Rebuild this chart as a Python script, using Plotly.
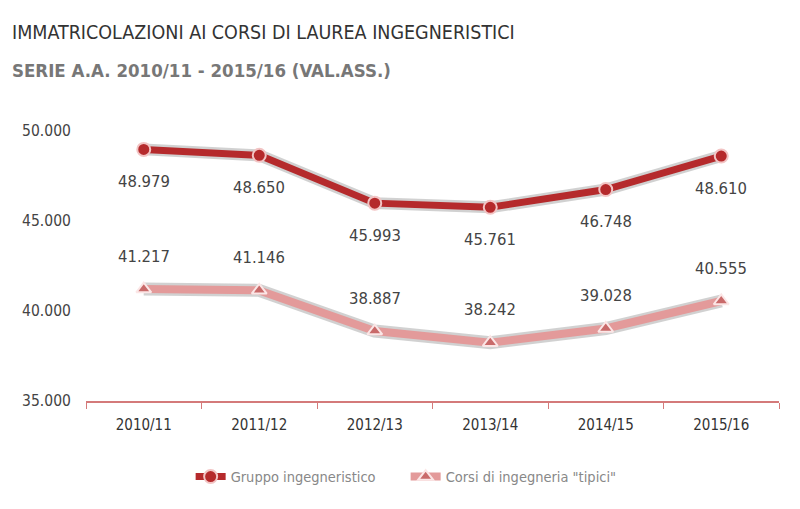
import plotly.graph_objects as go

categories = ["2010/11", "2011/12", "2012/13", "2013/14", "2014/15", "2015/16"]
gruppo = [48979, 48650, 45993, 45761, 46748, 48610]
tipici = [41217, 41146, 38887, 38242, 39028, 40555]
y_ticks = [35000, 40000, 45000, 50000]

def fmt(v):
    return f"{v:,}".replace(",", ".")

DARK = "#b52a2c"
LIGHT = "#e39a9a"
NARROW = "DejaVu Sans Condensed, sans-serif"

fig = go.Figure()
for vals, w in ((gruppo, 12), (tipici, 13)):
    fig.add_trace(go.Scatter(x=categories, y=vals, mode="lines",
                             line=dict(color="rgba(90,90,90,0.28)", width=w),
                             showlegend=False, hoverinfo="skip"))
fig.add_trace(go.Scatter(x=categories, y=gruppo, mode="lines+markers",
                         name="Gruppo ingegneristico",
                         line=dict(color=DARK, width=7),
                         marker=dict(symbol="circle", size=13, color=DARK,
                                     line=dict(color="#f2c4c4", width=2)),
                         cliponaxis=False))
fig.add_trace(go.Scatter(x=categories, y=tipici, mode="lines+markers",
                         name='Corsi di ingegneria "tipici"',
                         line=dict(color=LIGHT, width=8),
                         marker=dict(symbol="triangle-up", size=13, color="#c96a6a",
                                     line=dict(color="#fbe6e6", width=2)),
                         cliponaxis=False))

annotations = []
for c, v in zip(categories, gruppo):
    annotations.append(dict(x=c, y=v, text=fmt(v), showarrow=False, yshift=-32,
                            font=dict(family=NARROW, size=16.5, color="#444")))
for c, v in zip(categories, tipici):
    annotations.append(dict(x=c, y=v, text=fmt(v), showarrow=False, yshift=33,
                            font=dict(family=NARROW, size=16.5, color="#444")))
annotations.append(dict(xref="paper", yref="paper", x=-0.1097, y=1.365, xanchor="left",
                        yanchor="middle", showarrow=False,
                        text="IMMATRICOLAZIONI AI CORSI DI LAUREA INGEGNERISTICI",
                        font=dict(family=NARROW, size=19.5, color="#333")))
annotations.append(dict(xref="paper", yref="paper", x=-0.1097, y=1.225, xanchor="left",
                        yanchor="middle", showarrow=False,
                        text="<b>SERIE A.A. 2010/11 - 2015/16 (VAL.ASS.)</b>",
                        font=dict(family=NARROW, size=18.5, color="#777")))

fig.update_layout(
    width=800, height=509,
    margin=dict(l=78, r=29, t=123, b=116),
    paper_bgcolor="white", plot_bgcolor="white",
    separators=",.",
    showlegend=True,
    legend=dict(orientation="h", x=0.151, xanchor="left", y=-0.28, yanchor="middle",
                font=dict(family=NARROW, size=14.5, color="#888"),
                entrywidth=170, traceorder="normal"),
    annotations=annotations,
    xaxis=dict(type="category", range=[-0.5, 5.5], showgrid=False,
               showline=True, linecolor="#d47a7a", linewidth=2,
               ticks="outside", ticklen=6, tickcolor="#d47a7a",
               tickson="boundaries", ticklabelstandoff=9,
               tickfont=dict(family=NARROW, size=15, color="#333")),
    yaxis=dict(range=[35000, 50000], tickvals=y_ticks, tickformat=",.0f",
               showgrid=False, zeroline=False, showline=False,
               ticks="outside", ticklen=11, tickcolor="rgba(0,0,0,0)",
               tickfont=dict(family=NARROW, size=15.5, color="#444")),
)

fig.write_html("out.html")
